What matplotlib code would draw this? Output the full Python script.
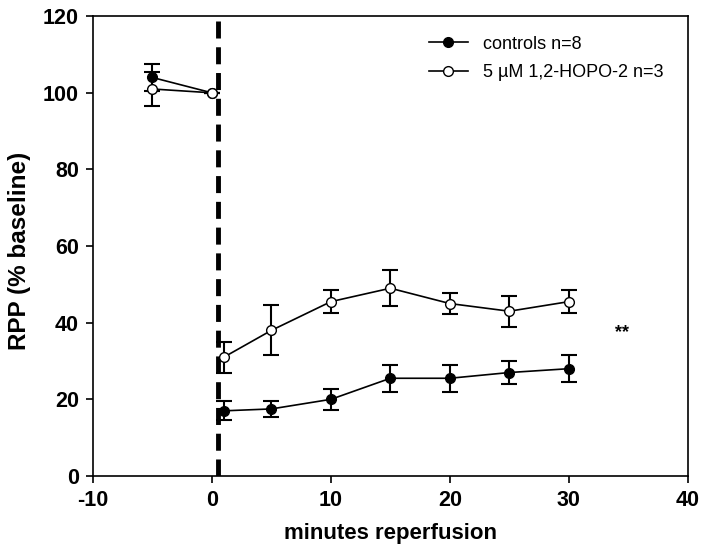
import matplotlib
matplotlib.use("Agg")
import matplotlib.pyplot as plt
from matplotlib.lines import Line2D

plt.rcParams['font.family'] = ['Liberation Sans', 'DejaVu Sans']
plt.rcParams['axes.unicode_minus'] = False

# baseline (before ischemia) and reperfusion segments are drawn separately
base_x = [-5, 0]
reperf_x = [1, 5, 10, 15, 20, 25, 30]

# controls n=8
ctrl_base_y = [104, 100]
ctrl_base_err = [3.5, 0]
ctrl_y = [17, 17.5, 20, 25.5, 25.5, 27, 28]
ctrl_err = [2.5, 2, 2.8, 3.5, 3.5, 3, 3.5]

# 5 uM 1,2-HOPO-2 n=3
hopo_base_y = [101, 100]
hopo_base_err = [4.5, 0]
hopo_y = [31, 38, 45.5, 49, 45, 43, 45.5]
hopo_err = [4, 6.5, 3, 4.7, 2.8, 4, 3]

ischemia_end = 0.5
sig_x, sig_y = 34.5, 37.3

fig = plt.figure(figsize=(7.04, 5.58), dpi=100)
ax = fig.add_axes([0.132, 0.147, 0.845, 0.824])

style = dict(color='black', lw=1.2, marker='o', ms=7, capsize=6,
             elinewidth=1.5, capthick=1.5, zorder=3)
for xs, ys, es in [(base_x, ctrl_base_y, ctrl_base_err), (reperf_x, ctrl_y, ctrl_err)]:
    ax.errorbar(xs, ys, yerr=es, mfc='black', mec='black', **style)
for xs, ys, es in [(base_x, hopo_base_y, hopo_base_err), (reperf_x, hopo_y, hopo_err)]:
    ax.errorbar(xs, ys, yerr=es, mfc='white', mec='black', **style)

ax.axvline(ischemia_end, color='black', lw=3.5, dashes=(3.5, 1.8), zorder=2)
ax.text(sig_x, sig_y, '**', fontsize=13, fontweight='bold', ha='center', va='center')

ax.set_xlim(-10, 40)
ax.set_ylim(0, 120)
ax.set_xticks([-10, 0, 10, 20, 30, 40])
ax.set_yticks([0, 20, 40, 60, 80, 100, 120])
ax.tick_params(direction='out', length=5, width=1.2, labelsize=15.5, pad=5)
for lab in ax.get_xticklabels() + ax.get_yticklabels():
    lab.set_fontweight('bold')
for s in ax.spines.values():
    s.set_linewidth(1.2)

ax.set_xlabel('minutes reperfusion', fontsize=16, fontweight='bold', labelpad=9)
ax.set_ylabel('RPP (% baseline)', fontsize=17.5, fontweight='bold', va='center')
ax.yaxis.set_label_coords(-0.123, 0.49)

handles = [
    Line2D([], [], color='black', lw=1.2, marker='o', ms=7, mfc='black', mec='black'),
    Line2D([], [], color='black', lw=1.2, marker='o', ms=7, mfc='white', mec='black'),
]
ax.legend(handles, ['controls n=8', '5 µM 1,2-HOPO-2 n=3'], loc='upper right',
          frameon=False, fontsize=13, handlelength=2.2,
          bbox_to_anchor=(0.98, 0.985), borderaxespad=0.3, labelspacing=0.65)

fig.savefig('out.png', dpi=100)
